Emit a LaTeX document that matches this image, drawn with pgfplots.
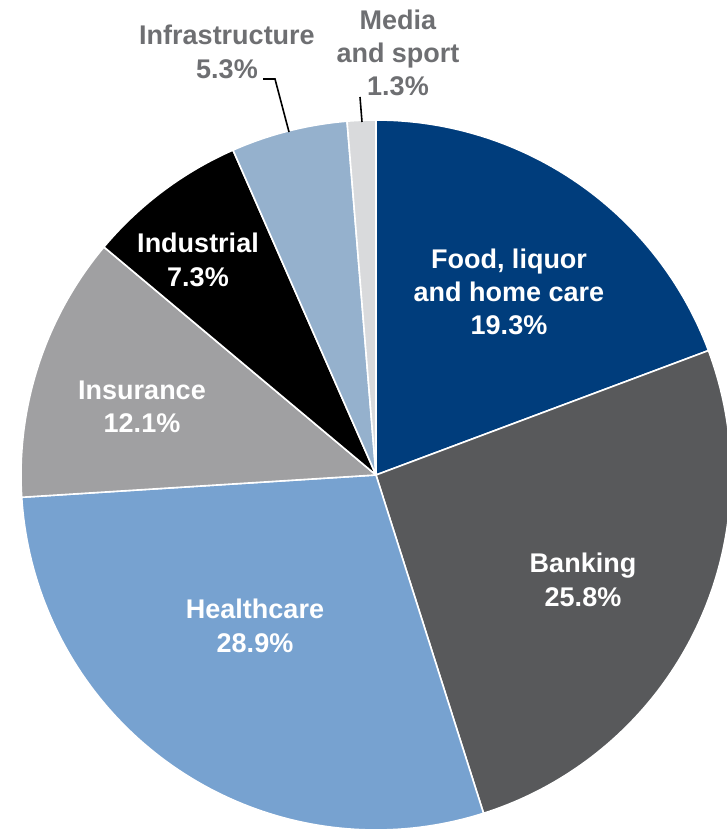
\documentclass[border=0pt]{standalone}
\usepackage{pgfplots}
\pgfplotsset{compat=1.18}
\usepackage{fontspec}
\setmainfont{Liberation Sans}
\definecolor{cFood}{HTML}{003D7C}
\definecolor{cBank}{HTML}{58595B}
\definecolor{cHealth}{HTML}{77A2D0}
\definecolor{cIns}{HTML}{A0A0A2}
\definecolor{cInd}{HTML}{000000}
\definecolor{cInfra}{HTML}{95B1CD}
\definecolor{cMedia}{HTML}{D9DADC}
\definecolor{cLab}{HTML}{6E6F72}
\tikzset{lab/.style={align=center, inner sep=0pt, font=\fontsize{20.25}{25}\selectfont\bfseries}}
% slice: #1 cumulative share before, #2 share (percent), #3 colour
\newcommand{\slice}[3]{%
  \pgfmathsetmacro{\angA}{90-3.6*(#1)}%
  \pgfmathsetmacro{\angB}{90-3.6*(#1+#2)}%
  \edef\doslice{\noexpand\addplot[fill=#3, draw=white, line width=1.2pt, line join=round, domain=\angB:\angA, samples=90] ({376+355*cos(x)},{354+355*sin(x)}) -- (axis cs:376,354) -- cycle;}%
  \doslice}
\begin{document}
\begin{tikzpicture}
\begin{axis}[scale only axis, width=545.25pt, height=621.75pt,
  xmin=0, xmax=727, ymin=0, ymax=829, hide axis, clip=true]
\path (axis cs:0,0) rectangle (axis cs:727,829);
\slice{0}{19.3}{cFood}
\slice{19.3}{25.8}{cBank}
\slice{45.1}{28.9}{cHealth}
\slice{74.0}{12.1}{cIns}
\slice{86.1}{7.3}{cInd}
\slice{93.4}{5.3}{cInfra}
\slice{98.7}{1.3}{cMedia}
\draw[black, line width=1.2pt] (axis cs:263,750) -- (axis cs:275,750) -- (axis cs:289,697);
\draw[black, line width=1.2pt] (axis cs:360,732) -- (axis cs:362,707);
\node[lab, text=white] at (axis cs:509,537) {Food, liquor\\and home care\\19.3\%};
\node[lab, text=white] at (axis cs:583,249) {Banking\\25.8\%};
\node[lab, text=white] at (axis cs:255,203) {Healthcare\\28.9\%};
\node[lab, text=white] at (axis cs:142,422) {Insurance\\12.1\%};
\node[lab, text=white] at (axis cs:198,569) {Industrial\\7.3\%};
\node[lab, text=cLab] at (axis cs:227,777) {Infrastructure\\5.3\%};
\node[lab, text=cLab] at (axis cs:398,776) {Media\\and sport\\1.3\%};
\end{axis}
\end{tikzpicture}
\end{document}
